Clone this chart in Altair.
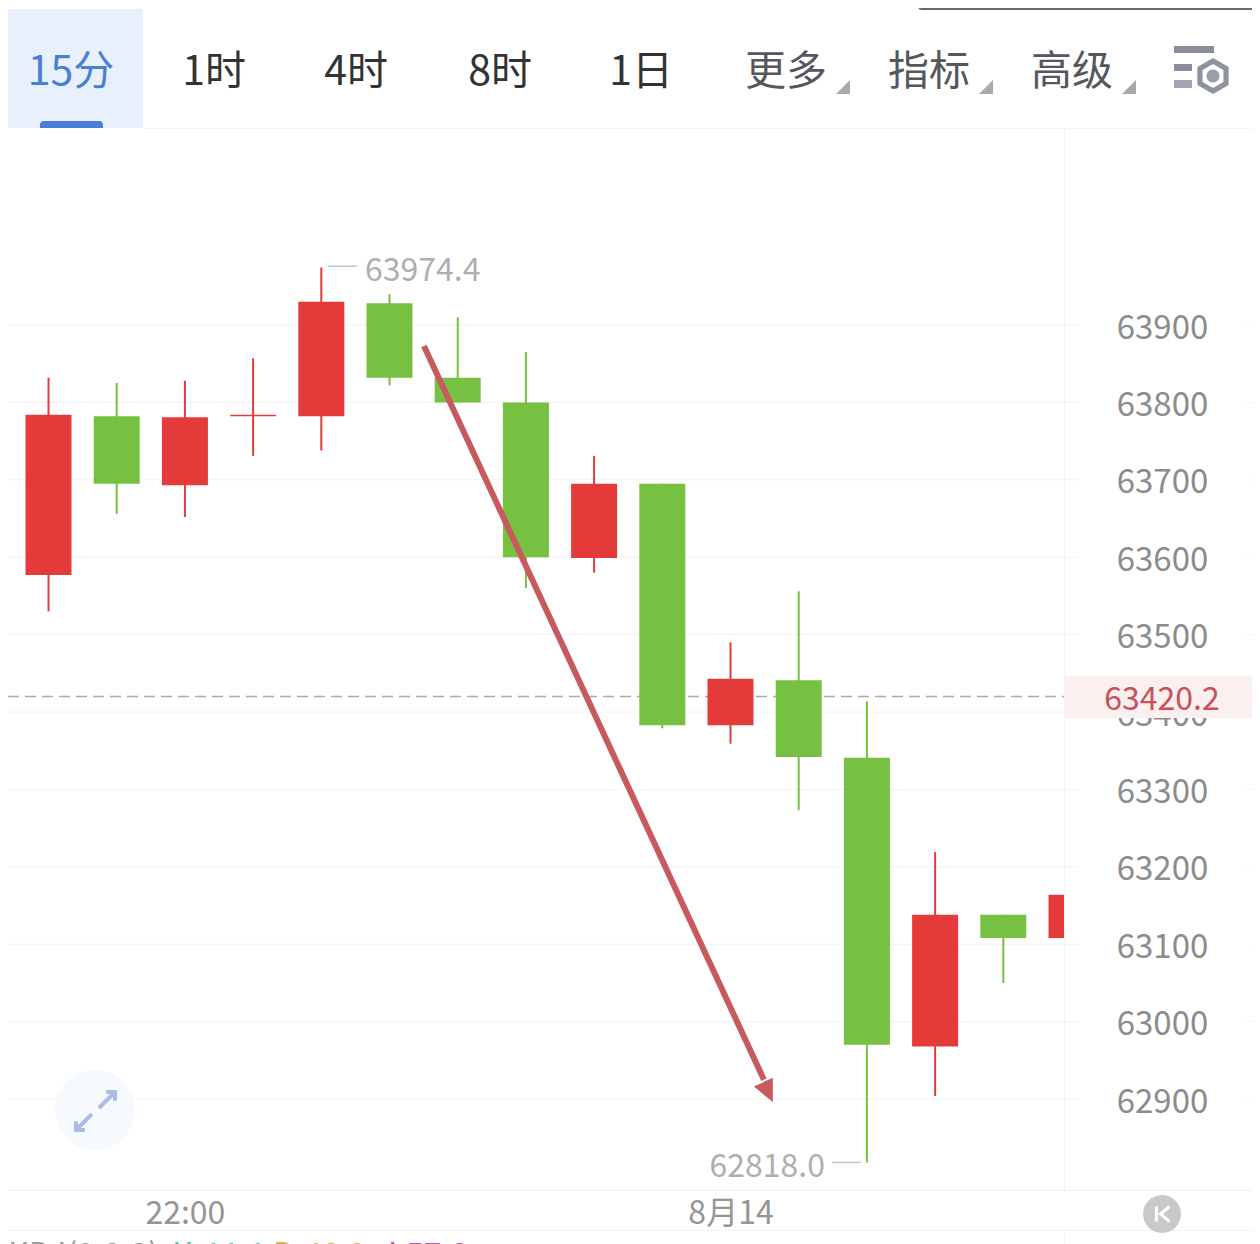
import altair as alt
import pandas as pd

# ---- data ----
index = [-1, 0, 1, 2, 3, 4, 5, 6, 7, 8, 9, 10, 11, 12, 13, 14, 15]
body_top = [63695, 63784, 63782, 63781, 63784, 63930, 63928, 63832, 63800, 63695, 63695, 63443, 63441, 63341, 63138, 63138, 63164]
body_bot = [63560, 63577, 63695, 63693, 63782, 63782, 63832, 63800, 63600, 63599, 63383, 63383, 63342, 62970, 62968, 63108, 63108]
high = [63695, 63832, 63825, 63828, 63857, 63974.4, 63940, 63910, 63865, 63731, 63695, 63490, 63556, 63414, 63219, 63138, 63164]
low = [63560, 63530, 63656, 63652, 63731, 63738, 63822, 63800, 63560, 63580, 63379, 63359, 63273, 62818, 62904, 63050, 63108]
kind = ["g", "r", "g", "r", "r", "r", "g", "g", "g", "r", "g", "r", "g", "g", "r", "g", "r"]

price_ticks = [63900, 63800, 63700, 63600, 63500, 63400, 63300, 63200, 63100, 63000, 62900]
time_tick_idx = [2, 10]
time_tick_txt = ["22:00", "8月14"]
last_price = 63420.2
arrow_idx = [5.505, 10.49]
arrow_price = [63873, 62925]
arrow_tip_idx = [10.62]
arrow_tip_price = [62899]
tabs = ["15分", "1时", "4时", "8时", "1日", "更多", "指标", "高级"]

RED, GREEN = "#e53a3a", "#76c142"
FONT = "Noto Sans CJK SC"
W, H = 1244, 1236
# 68.2 px per candle, 0.774 px per price unit
xs = alt.Scale(domain=[-0.594, -0.594 + W / 68.2], nice=False, zero=False, padding=0)
ys = alt.Scale(domain=[64309.6 - H / 0.774, 64309.6], nice=False, zero=False)

yaxis = alt.Axis(
    orient="right", offset=-90, values=price_ticks, format="d", title=None, domain=False, ticks=False,
    grid=False, labelAlign="center", labelBaseline="middle", labelPadding=0, labelFont=FONT, labelOffset=3,
    labelFontSize=33, labelColor="#8c8c8c", labelOverlap=False, labelFlush=False)
xaxis = alt.Axis(
    orient="bottom", offset=-31, values=time_tick_idx,
    labelExpr="datum.value==%d?'%s':'%s'" % (time_tick_idx[0], time_tick_txt[0], time_tick_txt[1]),
    title=None, domain=False, ticks=False, grid=False, labelPadding=0, labelBaseline="middle",
    labelFont=FONT, labelFontSize=32, labelColor="#959595", labelFlush=False, labelOverlap=False)


def X(f):
    return alt.X(f, scale=xs, axis=xaxis)


def Y(f):
    return alt.Y(f, scale=ys, axis=yaxis)


df = pd.DataFrame(dict(i=index, t=body_top, b=body_bot, h=high, l=low, k=kind))
one = pd.DataFrame({"a": [0]})


def px(v):
    return alt.value(v - 8)


def rect(x0, x1, y0, y1, color, **kw):
    return alt.Chart(one).mark_rect(color=color, **kw).encode(
        x=px(x0), x2=px(x1), y=px(y0), y2=px(y1))


def label(txt, x, y, size, color, align="center", weight="normal"):
    return alt.Chart(pd.DataFrame({"s": [txt]})).mark_text(
        font=FONT, fontSize=size, color=color, align=align, baseline="middle", fontWeight=weight
    ).encode(x=px(x), y=px(y), text="s:N")


def symbol(path, x, y, side, color, filled=True, sw=0):
    return alt.Chart(one).mark_point(
        shape=path, filled=filled, size=side * side, color=color, opacity=1, strokeWidth=sw
    ).encode(x=px(x), y=px(y))


layers = []

# grid + frame lines
grid_df = pd.DataFrame({"p": price_ticks})
GRID = "#f2f2f2"
layers.append(alt.Chart(grid_df).mark_rule(color=GRID, strokeWidth=1).encode(
    y=Y("p:Q"), x=px(8), x2=px(1078)))
layers.append(alt.Chart(grid_df).mark_rule(color=GRID, strokeWidth=1).encode(
    y=Y("p:Q"), x=px(1247), x2=px(1260)))

# last-price dashed line
layers.append(alt.Chart(pd.DataFrame({"p": [last_price]})).mark_rule(
    color="#ababab", strokeWidth=1.5, strokeDash=[11, 6]
).encode(y=Y("p:Q"), x=px(8), x2=px(1064)))

# candles
color = alt.Color("k:N", scale=alt.Scale(domain=["r", "g"], range=[RED, GREEN]), legend=None)
layers.append(alt.Chart(df).mark_rule(strokeWidth=2).encode(
    x=X("i:Q"), y=Y("h:Q"), y2="l:Q", color=color))
layers.append(alt.Chart(df).mark_bar(size=46, orient="vertical").encode(
    x=X("i:Q"), y=Y("t:Q"), y2="b:Q", color=color))

# crop the last candle at the panel edge, panel frame
layers.append(rect(1064, 1100, 129, 1190, "#ffffff"))
layers.append(alt.Chart(grid_df).mark_rule(color=GRID, strokeWidth=1).encode(
    y=Y("p:Q"), x=px(1064), x2=px(1078)))
layers.append(rect(1064, 1065, 129, 1190, GRID))
layers.append(rect(1064, 1065, 1230, 1244, GRID))
layers.append(rect(8, 1260, 1190, 1191, "#efefef"))
layers.append(rect(8, 1260, 1230, 1231, "#f2f2f2"))

# last-price badge
layers.append(rect(1064, 1260, 676, 718, "#fbf0f0"))
layers.append(alt.Chart(pd.DataFrame({"p": [last_price], "s": ["63420.2"]})).mark_text(
    font=FONT, fontSize=32, color="#cc4f5b", baseline="middle", dy=4
).encode(x=px(1162), y=Y("p:Q"), text="s:N"))

# high / low annotations
ann_hi = pd.DataFrame({"x": [4.10], "x2": [4.52], "p": [63976], "tx": [4.64], "s": ["63974.4"]})
ann_lo = pd.DataFrame({"x": [11.49], "x2": [11.91], "p": [62818], "tx": [11.386], "s": ["62818.0"]})
for ann, al in ((ann_hi, "left"), (ann_lo, "right")):
    layers.append(alt.Chart(ann).mark_rule(color="#c4c4c4", strokeWidth=1.5).encode(
        x=X("x:Q"), x2="x2:Q", y=Y("p:Q")))
    layers.append(alt.Chart(ann).mark_text(
        font=FONT, fontSize=32, color="#afafaf", align=al, baseline="middle", dy=5
    ).encode(x=X("tx:Q"), y=Y("p:Q"), text="s:N"))

# arrow
arrow = pd.DataFrame({"i": arrow_idx, "p": arrow_price})
tip = pd.DataFrame({"i": arrow_tip_idx, "p": arrow_tip_price})
layers.append(alt.Chart(arrow).mark_line(color="#c65a5f", strokeWidth=6).encode(x=X("i:Q"), y=Y("p:Q")))
layers.append(alt.Chart(tip).mark_point(
    shape="M0,0.1L-0.86,-0.6L0,-1Z", filled=True, size=1936, color="#c65a5f", opacity=1, strokeWidth=0
).encode(x=X("i:Q"), y=Y("p:Q")))

# top bar
layers.append(rect(8, 143, 9, 128, "#e8f0fb"))
layers.append(rect(40, 103, 121, 128, "#4a7fd8", cornerRadiusTopLeft=6, cornerRadiusTopRight=6))
layers.append(rect(143, 1260, 128, 129, "#f4f4f4"))
layers.append(rect(917, 1256, 0, 10, "#6b6b6b", cornerRadiusBottomLeft=8, cornerRadiusBottomRight=8))
tab_x = [71, 214, 356, 500, 641, 786, 929, 1072]
tab_c = ["#4a7fd8", "#333333", "#333333", "#333333", "#333333", "#55575c", "#55575c", "#55575c"]
for t, x, c in zip(tabs, tab_x, tab_c):
    layers.append(label(t, x, 73, 41, c))
for x in (843, 986, 1129):
    layers.append(symbol("M1,-1L1,1L-1,1Z", x, 87, 14, "#a9a9a9"))

# settings icon
layers.append(rect(1174, 1214, 46, 53, "#8a8e9c"))
layers.append(rect(1174, 1192, 64, 71, "#8a8e9c"))
layers.append(rect(1174, 1192, 80, 88, "#a3a6b2"))
HEX = "M0,-1L0.87,-0.5L0.87,0.5L0,1L-0.87,0.5L-0.87,-0.5Z"
layers.append(symbol(HEX, 1213, 76, 36, "#8f93a0"))
layers.append(symbol(HEX, 1213, 76, 24, "#ffffff"))
layers.append(symbol("M1,0A1,1 0 1,1 -1,0A1,1 0 1,1 1,0Z", 1213, 76, 13, "#9a9eaa"))

# expand button
layers.append(symbol("M1,0A1,1 0 1,1 -1,0A1,1 0 1,1 1,0Z", 95, 1110, 80, "#f6f9fe"))
layers.append(symbol("M-1,1L1,-1M-0.1,-1L1,-1L1,0.1", 107, 1100, 16, "#a9bde3", filled=False, sw=4))
layers.append(symbol("M1,-1L-1,1M-1,-0.1L-1,1L0.1,1", 84, 1122, 16, "#a9bde3", filled=False, sw=4))

# collapse button
layers.append(symbol("M1,0A1,1 0 1,1 -1,0A1,1 0 1,1 1,0Z", 1162, 1214, 38, "#c9c9cb"))
layers.append(symbol("M-0.75,-1L-0.75,1M1,-1L-0.2,0L1,1", 1162, 1214, 15, "#ffffff", filled=False, sw=3))

# indicator row, cut by the bottom edge
for txt, x, c in [("KDJ(9,3,3)", 8, "#9a9a9a"), ("K:44.4", 172, "#5cc2a8"),
                  ("D:48.8", 273, "#e0b04c"), ("J:57.8", 380, "#c055a0")]:
    layers.append(label(txt, x, 1256, 32, c, align="left"))

chart = alt.layer(*layers).properties(
    width=W, height=H, padding=0, background="#ffffff",
    autosize=alt.AutoSizeParams(type="none", contains="padding"),
).configure_view(stroke=None)

chart.save("out.html", embed_options={"renderer": "svg", "actions": False})
